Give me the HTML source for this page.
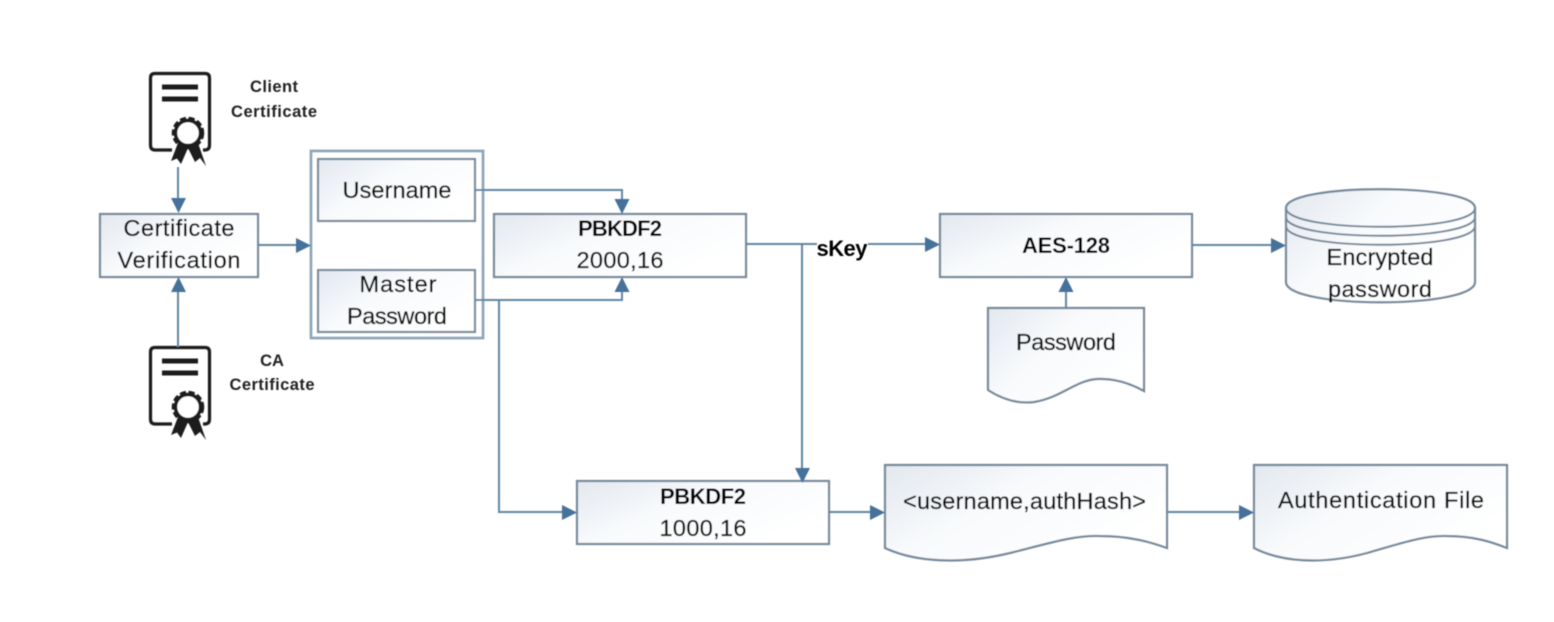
<!DOCTYPE html>
<html>
<head>
<meta charset="utf-8">
<style>
html,body{margin:0;padding:0;background:#fff;width:1554px;height:622px;overflow:hidden}
svg{display:block}
text{font-family:"Liberation Sans",sans-serif;fill:#111;stroke:#111;stroke-width:.3px;font-size:23.5px;text-anchor:middle}
.b{font-weight:bold;font-size:22px;fill:#000;stroke:none}
.s{font-weight:bold;font-size:16.5px;fill:#222;stroke:none}
.box{fill:url(#g);stroke:#76889a;stroke-width:2.2}
.ln{fill:none;stroke:#5f86a6;stroke-width:2}
.ar{fill:#44719a}
.ic{fill:none;stroke:#1c1c1c;stroke-width:3.2}
</style>
</head>
<body>
<svg width="1554" height="622" viewBox="0 0 1554 622" xmlns="http://www.w3.org/2000/svg">
<defs>
<linearGradient id="g" x1="0" y1="0" x2="1" y2="0.6">
<stop offset="0" stop-color="#e2e8ef"/>
<stop offset="0.45" stop-color="#f8fafc"/>
<stop offset="1" stop-color="#ffffff"/>
</linearGradient>
<filter id="soft" filterUnits="userSpaceOnUse" x="0" y="0" width="1554" height="622"><feGaussianBlur stdDeviation="0.4"/></filter>
<g id="cert">
<path class="ic" d="M172 150H155Q150.500 150 150.500 145V78Q150.500 73.500 155 73.500H205Q209.500 73.500 209.500 78V145Q209.500 150 205 150H203"/>
<rect x="162" y="84.500" width="36" height="5" fill="#1c1c1c"/>
<rect x="162" y="96.500" width="36" height="5" fill="#1c1c1c"/>
<path d="M178 143L171 161L177 158.500L181 164L188 148L195 162L200 158L206 166L198 143Z" fill="#1c1c1c"/>
<circle cx="188" cy="133" r="14.500" fill="none" stroke="#1c1c1c" stroke-width="3.500" stroke-dasharray="6 2.600"/>
<circle cx="188" cy="133" r="12.500" fill="#fff" stroke="#1c1c1c" stroke-width="3.500"/>
</g>
</defs>
<rect width="1554" height="622" fill="#fff"/>
<g filter="url(#soft)">

<use href="#cert"/>
<use href="#cert" y="274"/>

<text class="s" x="274" y="92" textLength="48">Client</text>
<text class="s" x="274" y="117" textLength="86">Certificate</text>
<text class="s" x="272" y="366">CA</text>
<text class="s" x="272" y="390" textLength="85">Certificate</text>

<!-- Boxes -->
<rect class="box" x="100" y="214" width="158" height="63"/>
<rect x="311" y="151" width="172" height="187" fill="#fff" stroke="#8ea6ba" stroke-width="2.800"/>
<rect class="box" x="318" y="159" width="157" height="62"/>
<rect class="box" x="318" y="270" width="157" height="62"/>
<rect class="box" x="494" y="214" width="252" height="63"/>
<rect class="box" x="940" y="214" width="252" height="63"/>
<rect class="box" x="577" y="481" width="252" height="63"/>

<!-- Documents -->
<path class="box" d="M988 308H1144V391C1128 382 1112 378 1096 379C1075 381 1060 398 1034 402C1018 404 1002 399 988 390Z"/>
<path class="box" d="M885 465H1167V548C1150 542 1130 536 1100 536C1075 535 1050 543 1010 553C960 565 915 562 885 548Z"/>
<path class="box" d="M1254 465H1507V548C1492 542 1474 536 1447 536C1425 535 1402 543 1367 553C1322 565 1281 562 1254 548Z"/>

<!-- Database -->
<path class="box" d="M1286 208C1286 183 1475 183 1475 208V282C1475 309 1286 309 1286 282Z"/>
<path fill="none" stroke="#76889a" stroke-width="2" d="M1286 208C1286 233 1475 233 1475 208M1286 217C1286 242 1475 242 1475 217M1286 226C1286 251 1475 251 1475 226"/>

<!-- Connectors -->
<path class="ln" d="M178 167V200"/>
<polygon class="ar" points="171,198 186,198 178.500,213"/>
<path class="ln" d="M178 347V290"/>
<polygon class="ar" points="171,292 186,292 178.500,277"/>
<path class="ln" d="M258 245H298"/>
<polygon class="ar" points="296,238 296,253 311,245.500"/>
<path class="ln" d="M475 190H622V200"/>
<polygon class="ar" points="614.500,199 629.500,199 622,214"/>
<path class="ln" d="M475 300H622V290"/>
<polygon class="ar" points="614.500,292 629.500,292 622,277"/>
<path class="ln" d="M475 300H499V512H564"/>
<polygon class="ar" points="562,505 562,520 577,512.500"/>
<path class="ln" d="M746 244H817M868 244H927"/>
<polygon class="ar" points="925,237 925,252 940,244.500"/>
<path class="ln" d="M802 244V470"/>
<polygon class="ar" points="795,468 810,468 802.500,483"/>
<path class="ln" d="M1066 308V290"/>
<polygon class="ar" points="1058.500,292 1073.500,292 1066,277"/>
<path class="ln" d="M1192 245H1273"/>
<polygon class="ar" points="1271,238 1271,253 1286,245.500"/>
<path class="ln" d="M829 512H872"/>
<polygon class="ar" points="870,505 870,520 885,512.500"/>
<path class="ln" d="M1167 512H1241"/>
<polygon class="ar" points="1239,505 1239,520 1254,512.500"/>

<!-- Labels -->
<text x="179" y="236" textLength="111">Certificate</text>
<text x="179" y="268" textLength="123">Verification</text>
<text x="397" y="198" textLength="109">Username</text>
<text x="398" y="292" textLength="77">Master</text>
<text x="397" y="324" textLength="100">Password</text>
<text class="b" x="620" y="236" textLength="84">PBKDF2</text>
<text x="620" y="268" textLength="87">2000,16</text>
<text class="b" x="842" y="256" textLength="51">sKey</text>
<text class="b" x="1066" y="253" textLength="88">AES-128</text>
<text x="1380" y="265" textLength="107">Encrypted</text>
<text x="1380" y="297" textLength="104">password</text>
<text x="1066" y="350" textLength="100">Password</text>
<text class="b" x="703" y="504" textLength="86">PBKDF2</text>
<text x="703" y="536" textLength="87">1000,16</text>
<text x="1024.500" y="509" textLength="243">&lt;username,authHash&gt;</text>
<text x="1381" y="508" textLength="206">Authentication File</text>
</g>
</svg>
</body>
</html>
